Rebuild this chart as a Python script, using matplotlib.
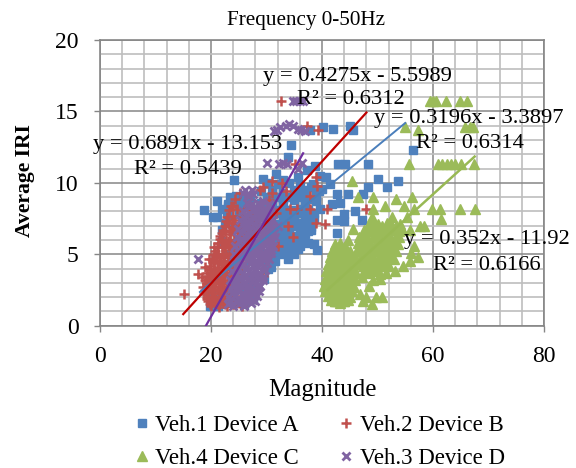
import matplotlib
matplotlib.use("Agg")
import matplotlib.pyplot as plt
from matplotlib.ticker import MultipleLocator

plt.rcParams['font.family'] = ['Liberation Serif', 'DejaVu Serif']

labels = ["Veh.1 Device A", "Veh.2 Device B", "Veh.4 Device C", "Veh.3 Device D"]
title = "Frequency 0-50Hz"

blue_x = [34.4,40.2,37.8,33.9,29.4,24.1,33,35.7,38.7,37.3,39.6,42,45,45.6,56.4,42.9,44.1,48.3,48.3,50.1,51.7,53.7,
          42.7,44.7,47.4,41.8,45.9,44,42.7,44,47.2,42.7,40.8,41.5,43.2,39.4,38.4,36.5,31.8,
          18.7,20.4,22.5,22.9,35.7,33.9,39.1,38.6,31.5,30.3,37.5,36.6,39.6,19.8,21.3,20.5,
          21,23,25,27,29,31,33,35,37,39,
          21,23,25,27,29,31,33,35,37,38.5,
          22,24,26,28,30,32,34,36,38,
          22,24,26,28,30,32,34,36,37.5,
          23,25,27,29,31,33,34.5,
          24,26,28,30,30.8,
          25,27,28.5,29.5,
          20,22,24,26,28,
          20,22,24,26,27.5,
          20,22,24,26,
          29,31,33,35,37,39,30,32,34,36,38,40,
          30,31.5,33,34.5,36,37.5,30.5,32,33.5,35,36.5,38,
          31,32.5,34,35.5,37,31.5,33,34.5,36,
          30,31,32,33,34,35,36,37,38,39,
          29.5,30.5,31.5,32.5,33.5,34.5,35.5,36.5,37.5,38.5,
          30,31,32,33,34,35,36,37,38,
          30.5,31.5,32.5,33.5,34.5,35.5,36.5,
          31,32,33,34,35,
          22,23,24,25,26,23.5,24.5,25.5]
blue_y = [12.65,13.9,13.7,11.8,10.3,10.2,10.2,10.4,11.2,10.9,10.5,13.8,14,13.7,12.3,11.3,11.3,11.3,9.7,10.3,9.7,10.1,
          9.2,9.2,9.2,8.5,8,7.8,7.4,7.3,7.4,6.5,10.4,9.9,8.6,9.4,9.9,9.5,10.6,
          8.1,7.6,7.2,7.9,5.4,4.7,5.3,5.7,4.5,4,6.6,6.2,8.2,1.4,1.4,1.9,
          8.7,8.5,8.6,8.8,8.6,8.7,8.6,8.8,8.7,8.7,
          7.6,7.7,7.8,7.6,7.7,7.8,7.6,7.7,7.6,7.5,
          6.7,6.8,6.6,6.8,6.7,6.6,6.8,6.7,6.7,
          5.9,5.8,6,5.8,5.9,6,5.8,5.9,5.8,
          5,5.1,4.9,5.1,5,5.2,5.4,
          4.2,4.1,4.3,4.2,4.1,
          3.3,3.2,3.4,3.3,
          2.6,2.5,2.6,2.7,2.6,
          1.9,1.8,1.9,2,1.9,
          1.4,1.5,1.6,1.5,
          9.4,9.5,9.3,9.5,9.4,9.5,10,9.9,10,9.8,9.7,9.6,
          8.2,8.1,8.2,8.1,8.2,8.1,7.2,7.1,7.2,7.3,7.2,7.1,
          6.3,6.4,6.2,6.3,6.4,5.5,5.4,5.5,5.6,
          9,9.1,9,8.9,9,9.1,9,9,8.9,9.1,
          8,7.9,8,7.9,8,7.9,8,7.9,8,7.9,
          7,7,6.9,7,6.9,7,6.9,7,6.9,
          6,6.1,6,6.1,6,6.1,6,
          5,5.1,5,5.1,5,
          8.2,8.4,8.6,8.3,8.5,9,9.1,9]

red_x = [15.1,17.7,32.6,37.3,39.3,35.1,31,29.4,32.8,39.1,37.8,39,34.2,35.5,37.8,40.9,33.9,39,40.5,34.8,32.1,29.4,24,24,25.2,28.8,31,48,
         33.5,30.5,31.8,
         23.2,24.6,26,27.4,28.8,
         22.8,24.2,25.6,27,28.4,
         22.5,23.8,25.2,26.6,28,
         22,23.4,24.8,26.2,27.6,
         21.7,23,24.4,25.8,27.2,
         21,22.4,23.8,25.2,26.6,
         20.8,22.2,23.6,25,26.4,
         20.2,21.6,23,24.4,25.8,
         19.8,21.2,22.6,24,25.4,
         19.2,20.6,22,23.4,24.8,
         19,20.4,21.8,23.2,24.6,
         18.6,20,21.4,22.8,24.2,
         18.8,20.2,21.6,23,24.4,
         19.5,20.9,22.3,23.7,25.1,
         20,21.4,22.8,24.2,25.6,
         22.2,23.5,24.9,26.2,
         21.3,22.7,24.1,25.5,
         20.9,22.3,23.7,25.1,
         20.5,21.9,23.3,24.7,
         20,21.3,22.7,24.1,
         19.6,21,22.4,23.8,
         19.3,20.7,22.1,23.5,
         18.9,20.3,21.7,23.1,
         19.2,20.6,22,23.4,
         19.8,21.2,22.6,24,
         22.7,21.6,20.6,19.7,18.9,18.3,23.6,24.4,
         19.3,20.1,20.8,21.5,22.2,22.9,23.6,
         19,19.7,20.4,21.1,21.8,22.5,23.2,23.9,
         19.3,20,20.7,21.4,22.1,22.8,23.5,
         19.5,20.2,20.9,21.6,22.3,23,23.7,
         19.9,20.6,21.3,22,22.7,23.4,
         20.3,21,21.7,22.4,23.1,23.8,
         20.6,21.3,22,22.7,23.4,24.1,
         21.2,21.9,22.6,23.3,24,24.7,
         22,22.7,23.4,24.1,24.8,
         22.6,23.3,24,24.7,25.4,
         23,23.7,24.4,25.1]
red_y = [2.2,3.6,15.7,14,13.7,11.3,10.1,9.7,10,9.8,9.1,10.4,8.2,8.2,8.2,8.2,7,7.2,7.1,6.2,5.6,3.5,8.4,7.7,9.3,9.5,9.3,8.2,
         9.4,8.8,7.9,
         8.1,8.2,8,8.1,8.2,
         7.6,7.4,7.6,7.5,7.4,
         7,6.9,7,6.8,7,
         6.5,6.4,6.3,6.5,6.4,
         6.1,5.9,6,5.9,6,
         5.5,5.6,5.4,5.5,5.6,
         5.2,5,5.1,5,5.2,
         4.7,4.6,4.5,4.6,4.7,
         4.2,4.1,4.2,4,4.1,
         3.7,3.6,3.5,3.7,3.6,
         3.2,3,3.1,3.2,3,
         2.7,2.6,2.5,2.6,2.7,
         2.2,2.1,2,2.2,2.1,
         1.7,1.6,1.8,1.7,1.6,
         1.4,1.3,1.4,1.5,1.4,
         6.7,6.6,6.7,6.6,
         5.8,5.7,5.8,5.7,
         4.9,4.8,4.9,4.8,
         4.4,4.3,4.4,4.3,
         3.9,3.8,3.9,3.8,
         3.4,3.3,3.4,3.3,
         2.9,2.8,2.9,2.8,
         2.4,2.3,2.4,2.3,
         1.9,1.8,1.9,1.8,
         1.55,1.5,1.55,1.5,
         7.3,6.3,5.5,4.7,4.1,3.4,8.4,8.9,
         2,2,2,2,2,2,2,
         2.5,2.5,2.5,2.5,2.5,2.5,2.5,2.5,
         3,3,3,3,3,3,3,
         3.5,3.5,3.5,3.5,3.5,3.5,3.5,
         4,4,4,4,4,4,
         4.5,4.5,4.5,4.5,4.5,4.5,
         5,5,5,5,5,5,
         5.5,5.5,5.5,5.5,5.5,5.5,
         6,6,6,6,6,
         6.6,6.6,6.6,6.6,6.6,
         7.2,7.2,7.2,7.2]

green_x = [60,59.5,60.5,62.3,64.9,66.1,55,57.3,65.8,66.7,67.2,55.7,60.9,61.6,62.5,63.3,64,65,67.4,45.4,
           46.5,49.2,53.3,56.2,51.4,54.8,49.2,56.5,59.8,61.3,64.9,67.6,61.4,55.3,52.6,49,57.7,58.4,55.9,45.6,44.7,
           56.5,56,57.3,55.9,54.6,53.2,50.5,47.2,49.2,46.8,50.8,49,47.4,42.7,42.7,48.5,49.8,48,
           48.5,49.3,50.1,50.9,51.7,52.5,53.3,54,
           47.5,48.3,49.1,49.9,50.7,51.5,52.3,53.1,53.9,54.5,
           46.7,47.5,48.3,49.1,49.9,50.7,51.5,52.3,53.1,53.9,
           46.5,47.3,48.1,48.9,49.7,50.5,51.3,52.1,52.9,53.7,
           46.3,47.1,47.9,48.7,49.5,50.3,51.1,51.9,52.7,53.4,
           46,46.8,47.6,48.4,49.2,50,50.8,51.6,52.4,53,
           46.5,47.3,48.1,48.9,49.7,50.5,51.3,52.1,
           47.5,48.5,49.5,50.5,51.5,
           42.3,43.2,44.1,
           41.8,42.6,43.4,44.2,45,
           41.4,42.2,43,43.8,44.6,45.4,
           41,41.8,42.6,43.4,44.2,45,45.8,
           40.7,41.5,42.3,43.1,43.9,44.7,45.5,46.1,
           40.5,41.3,42.1,42.9,43.7,44.5,45.3,46,
           40.3,41.1,41.9,42.7,43.5,44.3,45.1,45.8,
           40.6,41.4,42.2,43,43.8,44.6,45.4,
           41,41.8,42.6,43.4,44.2,45,
           41.6,42.4,43.2,44,44.7,
           42,42.8,43.6,44.3,
           42.3,43.2,44]
green_y = [15.7,15.7,15.7,15.7,15.7,15.7,13.9,13.7,13.9,13.9,13.9,11.3,11.3,11.3,11.3,11.3,11.3,11.3,11.3,10.1,
           9,9,8.9,9,8.4,8.4,8.2,8.2,8.2,8.2,8.2,8.2,7.5,7.6,7.6,7.6,7,7,6.7,6.8,6,
           5.6,5.1,4.8,4.5,4.2,3.8,3.3,3.4,3.2,2.2,2,1.5,1.7,1.7,5.3,2.8,2,2,
           7.1,7.2,7.1,7,7.2,7.1,7,7.1,
           6.7,6.8,6.6,6.7,6.8,6.6,6.7,6.8,6.6,6.8,
           6.2,6.3,6.1,6.2,6.3,6.1,6.2,6.3,6.1,6.2,
           5.8,5.7,5.8,5.6,5.8,5.7,5.8,5.6,5.8,5.7,
           5.3,5.2,5.3,5.1,5.3,5.2,5.3,5.1,5.3,5.2,
           4.8,4.7,4.8,4.6,4.8,4.7,4.8,4.6,4.8,4.7,
           4.3,4.2,4.3,4.1,4.3,4.2,4.3,4.2,
           3.8,3.7,3.8,3.6,3.7,
           5.7,5.8,5.6,
           5.2,5.3,5.1,5.3,5.2,
           4.8,4.7,4.9,4.7,4.8,4.7,
           4.3,4.2,4.4,4.2,4.3,4.2,4.3,
           3.8,3.7,3.9,3.7,3.8,3.7,3.8,3.7,
           3.3,3.2,3.4,3.2,3.3,3.2,3.3,3.2,
           2.8,2.7,2.9,2.7,2.8,2.7,2.8,2.7,
           2.4,2.3,2.4,2.3,2.4,2.3,2.4,
           2.1,2,2.1,2,2.1,2,
           1.8,1.7,1.8,1.7,1.8,
           2.5,2.4,2.5,2.4,
           1.7,1.6,1.7]

purple_x = [17.7,34.7,35.3,36,36.5,31.3,31.9,32.5,33.5,34,34.7,35.6,36.2,36.9,30,32.3,33,33.7,36.4,35.6,26.1,27.3,26.8,
            23,24,25,26,27.2,28,
            23.3,24.3,25.3,26.3,27.3,28.3,
            23.6,24.6,25.6,26.6,27.6,28.6,
            23.4,24.4,25.4,26.4,27.4,28.4,29.4,
            23.8,24.8,25.8,26.8,27.8,28.8,29.8,
            24,25,26,27,28,29,30,
            24.1,25.1,26.1,27.1,28.1,29.1,30.1,30.9,
            24.4,25.4,26.4,27.4,28.4,29.4,30.4,31.2,
            24.6,25.6,26.6,27.6,28.6,29.6,30.6,31.6,
            24.9,25.9,26.9,27.9,28.9,29.9,30.9,32,
            25.2,26.2,27.2,28.2,29.2,30.2,31.2,
            25.8,26.8,27.8,28.8,29.8,30.8,
            26.4,27.4,28.4,29.4,30.4,
            25.8,26.6,27.5,
            23.5,24.5,25.5,26.5,27.5,
            23.8,24.8,25.8,26.8,27.8,28.6,
            23.9,24.9,25.9,26.9,27.9,28.9,
            24.3,25.3,26.3,27.3,28.3,29.3,
            24.5,25.5,26.5,27.5,28.5,29.5,
            24.6,25.6,26.6,27.6,28.6,29.6,30.4,
            24.9,25.9,26.9,27.9,28.9,29.9,30.8,
            25.1,26.1,27.1,28.1,29.1,30.1,31,
            25.4,26.4,27.4,28.4,29.4,30.4,31.4,
            25.7,26.7,27.7,28.7,29.7,30.7,
            26.3,27.3,28.3,29.3,30.3,
            26.9,27.9,28.9,29.9]
purple_y = [4.7,15.7,15.7,15.7,15.7,13.6,13.7,13.9,14,14.1,14,13.8,13.7,13.6,11.4,11.3,11.4,11.3,11.4,11,9.5,9.5,9.1,
            1.5,1.4,1.5,1.4,1.6,1.7,
            2,2.1,1.9,2,2.2,2.1,
            2.6,2.5,2.7,2.6,2.5,2.7,
            3.2,3.1,3.3,3.2,3.1,3.3,3.2,
            3.8,3.9,3.7,3.8,3.9,3.7,3.9,
            4.4,4.5,4.3,4.4,4.5,4.3,4.4,
            5,5.1,4.9,5,5.1,4.9,5,5.1,
            5.6,5.5,5.7,5.6,5.5,5.7,5.6,5.6,
            6.2,6.1,6.3,6.2,6.1,6.3,6.2,6.2,
            6.8,6.9,6.7,6.8,6.9,6.7,6.8,7,
            7.4,7.5,7.3,7.4,7.5,7.3,7.4,
            8,7.9,8.1,8,7.9,8,
            8.6,8.5,8.6,8.7,8.5,
            9.3,9.2,9.2,
            1.8,1.7,1.8,1.7,1.8,
            2.3,2.4,2.3,2.4,2.3,2.4,
            2.9,2.8,2.9,2.8,2.9,2.8,
            3.5,3.4,3.5,3.4,3.5,3.4,
            4.1,4.2,4.1,4.2,4.1,4.2,
            4.7,4.8,4.7,4.8,4.7,4.8,4.7,
            5.3,5.2,5.3,5.2,5.3,5.2,5.3,
            5.9,5.8,5.9,5.8,5.9,5.8,5.9,
            6.5,6.4,6.5,6.4,6.5,6.4,6.5,
            7.1,7,7.1,7,7.1,7,
            7.7,7.6,7.7,7.6,7.7,
            8.3,8.2,8.3,8.2]

# trendline end points, on the equations printed in the chart
red_fit = ([15, 48], [0.81, 14.92])
blue_fit = ([18, 55], [2.36, 14.19])
green_fit = ([41, 67.5], [2.51, 11.84])
purple_fit = ([19.1, 36.6], [0.01, 12.07])

BLUE, RED, GREEN, PURPLE = "#4F81BD", "#C0504D", "#9BBB59", "#8064A2"

W, H = 576, 468
fig = plt.figure(figsize=(W / 100, H / 100), dpi=100)
ax = fig.add_axes([100 / W, 1 - 325.7 / H, 444 / W, 285.7 / H])

a, = ax.plot(blue_x, blue_y, ls="", marker="s", ms=6.2, color=BLUE, mec=BLUE, zorder=3)
b, = ax.plot(red_x, red_y, ls="", marker="+", ms=7, mew=1.8, color=RED, zorder=3.1)
c, = ax.plot(green_x, green_y, ls="", marker="^", ms=7.5, color=GREEN, mec=GREEN, zorder=3.2)
d, = ax.plot(purple_x, purple_y, ls="", marker="x", ms=5.8, mew=2, color=PURPLE, zorder=3.3)

ax.plot(*blue_fit, color="#4A7EBB", lw=1.4, zorder=4)
ax.plot(*green_fit, color="#98B954", lw=1.8, zorder=4)
ax.plot(*red_fit, color="#BE0000", lw=1.6, zorder=4.1)
ax.plot(*purple_fit, color="#7030A0", lw=1.6, zorder=4.1)

ax.set_xlim(0, 80)
ax.set_ylim(0, 20)
ax.xaxis.set_major_locator(MultipleLocator(20))
ax.xaxis.set_minor_locator(MultipleLocator(4))
ax.yaxis.set_major_locator(MultipleLocator(5))
ax.yaxis.set_minor_locator(MultipleLocator(1))
ax.grid(which="minor", color="#BEBEBE", lw=1.2, zorder=1)
ax.grid(which="major", color="#868686", lw=1.1, zorder=1.5)
ax.set_axisbelow(True)
for s in ax.spines.values():
    s.set_color("#868686")
    s.set_linewidth(1.2)
ax.tick_params(which="major", length=4.5, width=1, color="#868686", labelsize=17)
ax.tick_params(axis="x", which="major", pad=10)
ax.tick_params(axis="y", which="major", pad=11)
ax.tick_params(which="minor", length=0)

fig.text(306 / W, 1 - 20 / H, title, ha="center", va="center", fontsize=15.2)
fig.text(322 / W, 1 - 390 / H, "Magnitude", ha="center", va="center", fontsize=18)
fig.text(25 / W, 1 - 181 / H, "Average IRI", ha="center", va="center", rotation=90,
         fontsize=15.6, fontweight="bold")

notes = [("y = 0.4275x - 5.5989", 357, 76), ("R² = 0.6312", 351, 99),
         ("y = 0.3196x - 3.3897", 469, 118), ("R² = 0.6314", 470, 143),
         ("y = 0.6891x - 13.153", 188, 145), ("R² = 0.5439", 188, 170),
         ("y = 0.352x - 11.92", 487, 240), ("R² = 0.6166", 487, 265)]
for s, px, py in notes:
    fig.text(px / W, 1 - py / H, s, ha="center", va="center", fontsize=16.2, zorder=10)

fig.legend([a, c, b, d], [labels[0], labels[2], labels[1], labels[3]], ncol=2, frameon=False,
           loc="center", bbox_to_anchor=(318 / W, 1 - 442 / H), fontsize=16.4,
           columnspacing=1.6, handletextpad=0.15, handlelength=0.9, labelspacing=0.5)

fig.savefig("out.png", dpi=100)
